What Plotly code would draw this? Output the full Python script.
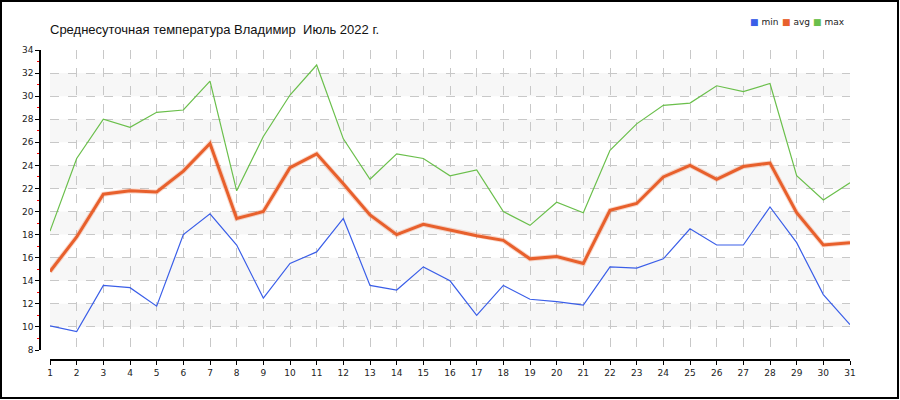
import plotly.graph_objects as go

# ─── Data ─────────────────────────────────────────────────────────────────────

days = list(range(1, 32))
t_min = [10.1, 9.6, 13.6, 13.4, 11.8, 18.0, 19.8, 17.1, 12.5, 15.5, 16.5, 19.4,
         13.6, 13.2, 15.2, 14.0, 11.0, 13.6, 12.4, 12.2, 11.9, 15.2, 15.1, 15.9,
         18.5, 17.1, 17.1, 20.4, 17.3, 12.8, 10.2]
t_avg = [14.8, 17.8, 21.5, 21.8, 21.7, 23.5, 25.9, 19.4, 20.0, 23.8, 25.0, 22.4,
         19.7, 18.0, 18.9, 18.4, 17.9, 17.5, 15.9, 16.1, 15.5, 20.1, 20.7, 23.0,
         24.0, 22.8, 23.9, 24.2, 19.9, 17.1, 17.3]
t_max = [18.3, 24.6, 28.0, 27.3, 28.6, 28.8, 31.3, 21.8, 26.5, 30.1, 32.7, 26.3,
         22.8, 25.0, 24.6, 23.1, 23.6, 20.0, 18.8, 20.8, 19.9, 25.3, 27.6, 29.2,
         29.4, 30.9, 30.4, 31.1, 23.1, 21.0, 22.5]

series = [("min", t_min, "#3a5ee8", 1.2),
          ("avg", t_avg, "#e8602c", 3),
          ("max", t_max, "#6abf4b", 1.2)]

title_text = "Среднесуточная температура Владимир  Июль 2022 г."
y_range = [8, 34]

# ─── Figure ───────────────────────────────────────────────────────────────────

W, H = 900, 400
ML, MR, MT, MB = 40, 50, 50, 40
pw, ph = W - ML - MR, H - MT - MB

fig = go.Figure()

for name, vals, color, width in series:
    if name == "avg":
        fig.add_trace(go.Scatter(x=days, y=vals, mode="lines", showlegend=False,
                                 hoverinfo="skip",
                                 line=dict(color="rgba(232,96,44,0.25)", width=5)))
    fig.add_trace(go.Scatter(x=days, y=vals, mode="lines", name=name,
                             showlegend=False, line=dict(color=color, width=width)))

# legend (square swatch + label), drawn as annotations at the top right
leg_x = [748, 780, 811]
for (name, vals, color, width), lx in zip(series, leg_x):
    fig.add_annotation(xref="paper", yref="paper",
                       x=(lx - ML) / pw, y=(H - 22 - MB) / ph,
                       xanchor="left", yanchor="middle", showarrow=False,
                       text=f'<span style="color:{color}">■</span> {name}',
                       font=dict(family="DejaVu Sans", size=9, color="#222"))

# alternating bands
for lo in range(10, 34, 4):
    fig.add_shape(type="rect", xref="x domain", x0=0, x1=1, yref="y", y0=lo, y1=lo + 2,
                  fillcolor="#f7f7f7", line_width=0, layer="below")

# outer frame
fig.add_shape(type="rect", xref="paper", yref="paper",
              x0=(1 - ML) / pw, x1=(898 - ML) / pw,
              y0=(H - 398 - MB) / ph, y1=(H - 1 - MB) / ph,
              line=dict(color="black", width=2))

tick_font = dict(family="DejaVu Sans", size=9, color="#222")

fig.update_layout(
    width=W, height=H, showlegend=False,
    margin=dict(l=ML, r=MR, t=MT, b=MB, autoexpand=False),
    paper_bgcolor="white", plot_bgcolor="white",
    title=dict(text=title_text, xref="container", yref="container",
               x=50 / W, xanchor="left", y=1 - 29 / H, yanchor="middle",
               font=dict(family="Liberation Sans", size=13, color="#111")),
    xaxis=dict(domain=[10 / pw, 1], range=[1, 31], anchor="free", position=0,
               automargin=False,
               tickmode="linear", tick0=1, dtick=1, ticks="outside", ticklen=4,
               tickcolor="black", showline=True, linecolor="black", linewidth=1.5,
               showgrid=True, gridcolor="#c8c8c8", griddash="dash", gridwidth=1,
               zeroline=False, tickfont=tick_font),
    yaxis=dict(domain=[10 / ph, 1], range=y_range, anchor="free", position=0,
               automargin=False,
               tickmode="linear", tick0=8, dtick=2, ticks="outside", ticklen=4,
               tickcolor="black", showline=True, linecolor="black", linewidth=1.5,
               showgrid=True, gridcolor="#c8c8c8", griddash="dash", gridwidth=1,
               zeroline=False, tickfont=tick_font,
               minor=dict(dtick=1, tick0=8, ticks="outside", ticklen=2,
                          tickcolor="red", showgrid=False)),
)

# page has a default 8px body margin; drop it so the figure sits at (0, 0)
fig.write_html("out.html", config={"displayModeBar": False},
               post_script="document.body.style.margin='0';")
